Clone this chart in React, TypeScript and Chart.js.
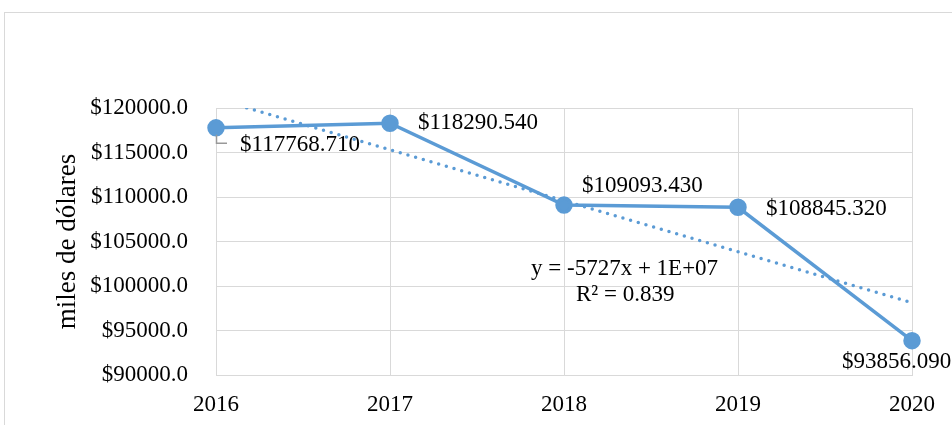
import React, { useEffect, useRef } from 'react';
import { Chart, registerables } from 'chart.js';

Chart.register(...registerables);

const years = ['2016', '2017', '2018', '2019', '2020'];
const values = [117768.71, 118290.54, 109093.43, 108845.32, 93856.09];
const yMin = 90000;
const yMax = 120000;
const yStep = 5000;
const yTitle = 'miles de dólares';
const equationText = 'y = -5727x + 1E+07';
const r2Text = 'R² = 0.839';

// label placement per point: [dx, dy, align]
const labelPlacement: [number, number, CanvasTextAlign][] = [
  [24, 17, 'left'],
  [28, 0, 'left'],
  [18, -19, 'left'],
  [28, 2, 'left'],
  [-70, 21, 'left'],
];

// linear trendline (least squares) from the series
function trend(vals: number[]): number[] {
  const n = vals.length;
  const xs = vals.map((_, i) => i + 1);
  const mx = xs.reduce((a, b) => a + b, 0) / n;
  const my = vals.reduce((a, b) => a + b, 0) / n;
  let num = 0;
  let den = 0;
  for (let i = 0; i < n; i++) {
    num += (xs[i] - mx) * (vals[i] - my);
    den += (xs[i] - mx) * (xs[i] - mx);
  }
  const slope = num / den;
  const icpt = my - slope * mx;
  return xs.map((x) => icpt + slope * x);
}

const BLUE = '#5b9bd5';
const GRID = '#d9d9d9';
const FONT = "'Liberation Serif', 'Times New Roman', serif";
const FS = 23;

export default function App() {
  const ref = useRef<HTMLCanvasElement>(null);

  useEffect(() => {
    if (!ref.current) return;
    const trendValues = trend(values);

    const decor = {
      id: 'decor',
      beforeDraw(chart: any) {
        const ctx = chart.ctx;
        ctx.save();
        ctx.fillStyle = '#fff';
        ctx.fillRect(0, 0, chart.width, chart.height);
        ctx.strokeStyle = GRID;
        ctx.lineWidth = 1;
        ctx.strokeRect(4.5, 12.5, chart.width + 10, chart.height + 10);
        ctx.restore();
      },
      afterDatasetsDraw(chart: any) {
        const ctx = chart.ctx;
        const meta = chart.getDatasetMeta(0);
        const xs = chart.scales.x;
        const ys = chart.scales.y;
        ctx.save();
        ctx.font = `${FS}px ${FONT}`;
        ctx.fillStyle = '#000';
        ctx.textBaseline = 'middle';
        // leader line for first label
        const p0 = meta.data[0];
        ctx.strokeStyle = '#999';
        ctx.lineWidth = 1.5;
        ctx.beginPath();
        ctx.moveTo(p0.x + 0.5, p0.y + 7);
        ctx.lineTo(p0.x + 0.5, p0.y + 15.5);
        ctx.lineTo(p0.x + 11, p0.y + 15.5);
        ctx.stroke();
        meta.data.forEach((pt: any, i: number) => {
          const [dx, dy, align] = labelPlacement[i];
          ctx.textAlign = align;
          ctx.fillText('$' + values[i].toFixed(3), pt.x + dx, pt.y + dy);
        });
        // equation
        const ex = xs.getPixelForValue(2) - 33;
        const ey = ys.getPixelForValue(101900);
        ctx.textAlign = 'left';
        ctx.fillText(equationText, ex, ey);
        ctx.fillText(r2Text, ex + 45, ey + 26);
        ctx.restore();
      },
    };

    const chart = new Chart(ref.current, {
      type: 'line',
      data: {
        labels: years,
        datasets: [
          {
            data: values,
            borderColor: BLUE,
            backgroundColor: BLUE,
            borderWidth: 3.5,
            pointRadius: 7,
            pointBackgroundColor: BLUE,
            pointBorderColor: BLUE,
            tension: 0,
            clip: false as any,
            order: 1,
          },
          {
            data: trendValues,
            borderColor: BLUE,
            borderWidth: 3.5,
            borderDash: [0, 8],
            borderCapStyle: 'round',
            pointRadius: 0,
            tension: 0,
            order: 0,
          },
        ],
      },
      options: {
        animation: false,
        responsive: false,
        events: [],
        layout: { padding: { left: 52, top: 108, right: 40, bottom: 0 } },
        plugins: { legend: { display: false }, tooltip: { enabled: false } },
        scales: {
          x: {
            offset: false,
            grid: { color: GRID, drawTicks: false, lineWidth: 1 },
            border: { display: true, color: GRID },
            ticks: { color: '#000', font: { family: FONT, size: FS }, padding: 16 },
            afterFit: (s: any) => {
              s.height = 50;
            },
          },
          y: {
            min: yMin,
            max: yMax,
            grid: { color: GRID, drawTicks: false, lineWidth: 1 },
            border: { display: true, color: GRID },
            ticks: {
              stepSize: yStep,
              color: '#000',
              font: { family: FONT, size: FS },
              padding: 28,
              callback: (v: any) => '$' + Number(v).toFixed(1),
            },
            title: {
              display: true,
              text: yTitle,
              color: '#000',
              font: { family: FONT, size: 27 },
              padding: 0,
            },
            afterFit: (s: any) => {
              s.width = 164;
            },
          },
        },
      },
      plugins: [decor],
    });
    return () => chart.destroy();
  }, []);

  return (
    <div style={{ position: 'fixed', left: 0, top: 0, width: 952, height: 425, background: '#fff' }}>
      <canvas ref={ref} width={952} height={425} />
    </div>
  );
}
